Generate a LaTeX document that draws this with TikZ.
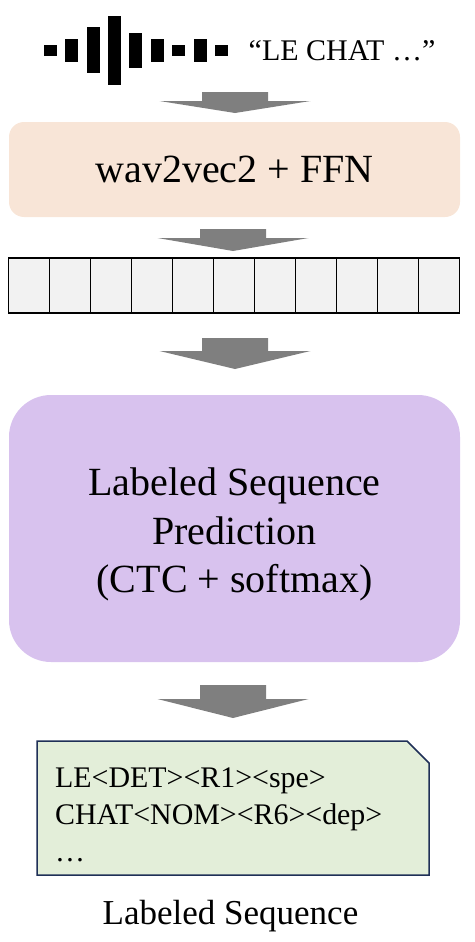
\documentclass[tikz,border=0pt]{standalone}
\usepackage{fontspec}
\setmainfont{Liberation Serif}
\definecolor{encoderpeach}{HTML}{F8E5D7}
\definecolor{predictpurple}{HTML}{D8C2EE}
\definecolor{notegreen}{HTML}{E3EED9}
\definecolor{notenavy}{HTML}{1F3057}
\definecolor{cellgrey}{HTML}{F2F2F2}
\definecolor{arrowgrey}{HTML}{7F7F7F}
\tikzset{
    block/.style={inner sep=0pt, align=center},
    framecell/.style={draw=black, line width=1.7pt, fill=cellgrey, inner sep=0pt,
        minimum width=41pt, minimum height=54.5pt},
    textlabel/.style={inner sep=0pt, align=left}
}
% Grey block arrow: centre x, top of shaft, top of head, tip
\newcommand{\blockarrow}[4]{
    \fill[arrowgrey] ({#1-33},#2) -- ({#1+33},#2) -- ({#1+33},#3) -- ({#1+75.5},#3)
        -- (#1,#4) -- ({#1-75.5},#3) -- ({#1-33},#3) -- cycle;
}

\begin{document}
\begin{tikzpicture}[x=1pt,y=-1pt]
    \useasboundingbox (0,0) rectangle (474,942);

    % Waveform bars
    \foreach \x/\top/\bot in {44/45/56, 65/39/62, 87/27/73, 108/16/85, 129/33/68,
                              151/39/62, 172/45/56, 194/39/62, 215/45/56} {
        \fill[black] (\x,\top) rectangle (\x+12.7,\bot);
    }

    % Transcription next to the waveform
    \node[textlabel, font=\fontsize{30}{36}\selectfont] (transcript) at (342,51) {“LE CHAT …”};

    \blockarrow{235}{92}{101}{113}

    % Encoder box
    \node[block, fill=encoderpeach, rounded corners=15pt, minimum width=451pt, minimum height=95pt,
        font=\fontsize{40}{48}\selectfont] (encoder) at (234.5,169.5) {wav2vec2 + FFN};

    \blockarrow{233}{229}{238}{251}

    % Frames below the encoder
    \foreach \i in {0,...,10} {
        \node[framecell] (cell\i) at ({8.5+41*(\i+0.5)},285.5) {};
    }

    \blockarrow{235}{338}{351}{369}

    % Prediction box, its text sits a little below the centre
    \node[block, fill=predictpurple, rounded corners=42pt, minimum width=451pt, minimum height=267pt]
        (predict) at (234.5,528.5) {};
    \node[block, font=\fontsize{40}{48.5}\selectfont] (predicttext) at (234.5,534.5)
        {Labeled Sequence\\Prediction\\(CTC + softmax)};

    \blockarrow{233}{685}{699}{718}

    % Output note with the cut corner
    \draw[notenavy, fill=notegreen, line width=1.5pt] (37,741) -- (407,741) -- (429,763)
        -- (429,875) -- (37,875) -- cycle;
    \node[textlabel, anchor=west, font=\fontsize{29.9}{37}\selectfont] (output) at (55,815)
        {LE<DET><R1><spe>\\CHAT<NOM><R6><dep>\\…};

    % Caption
    \node[block, font=\fontsize{35}{42}\selectfont] (caption) at (230.5,916) {Labeled Sequence};
\end{tikzpicture}
\end{document}
